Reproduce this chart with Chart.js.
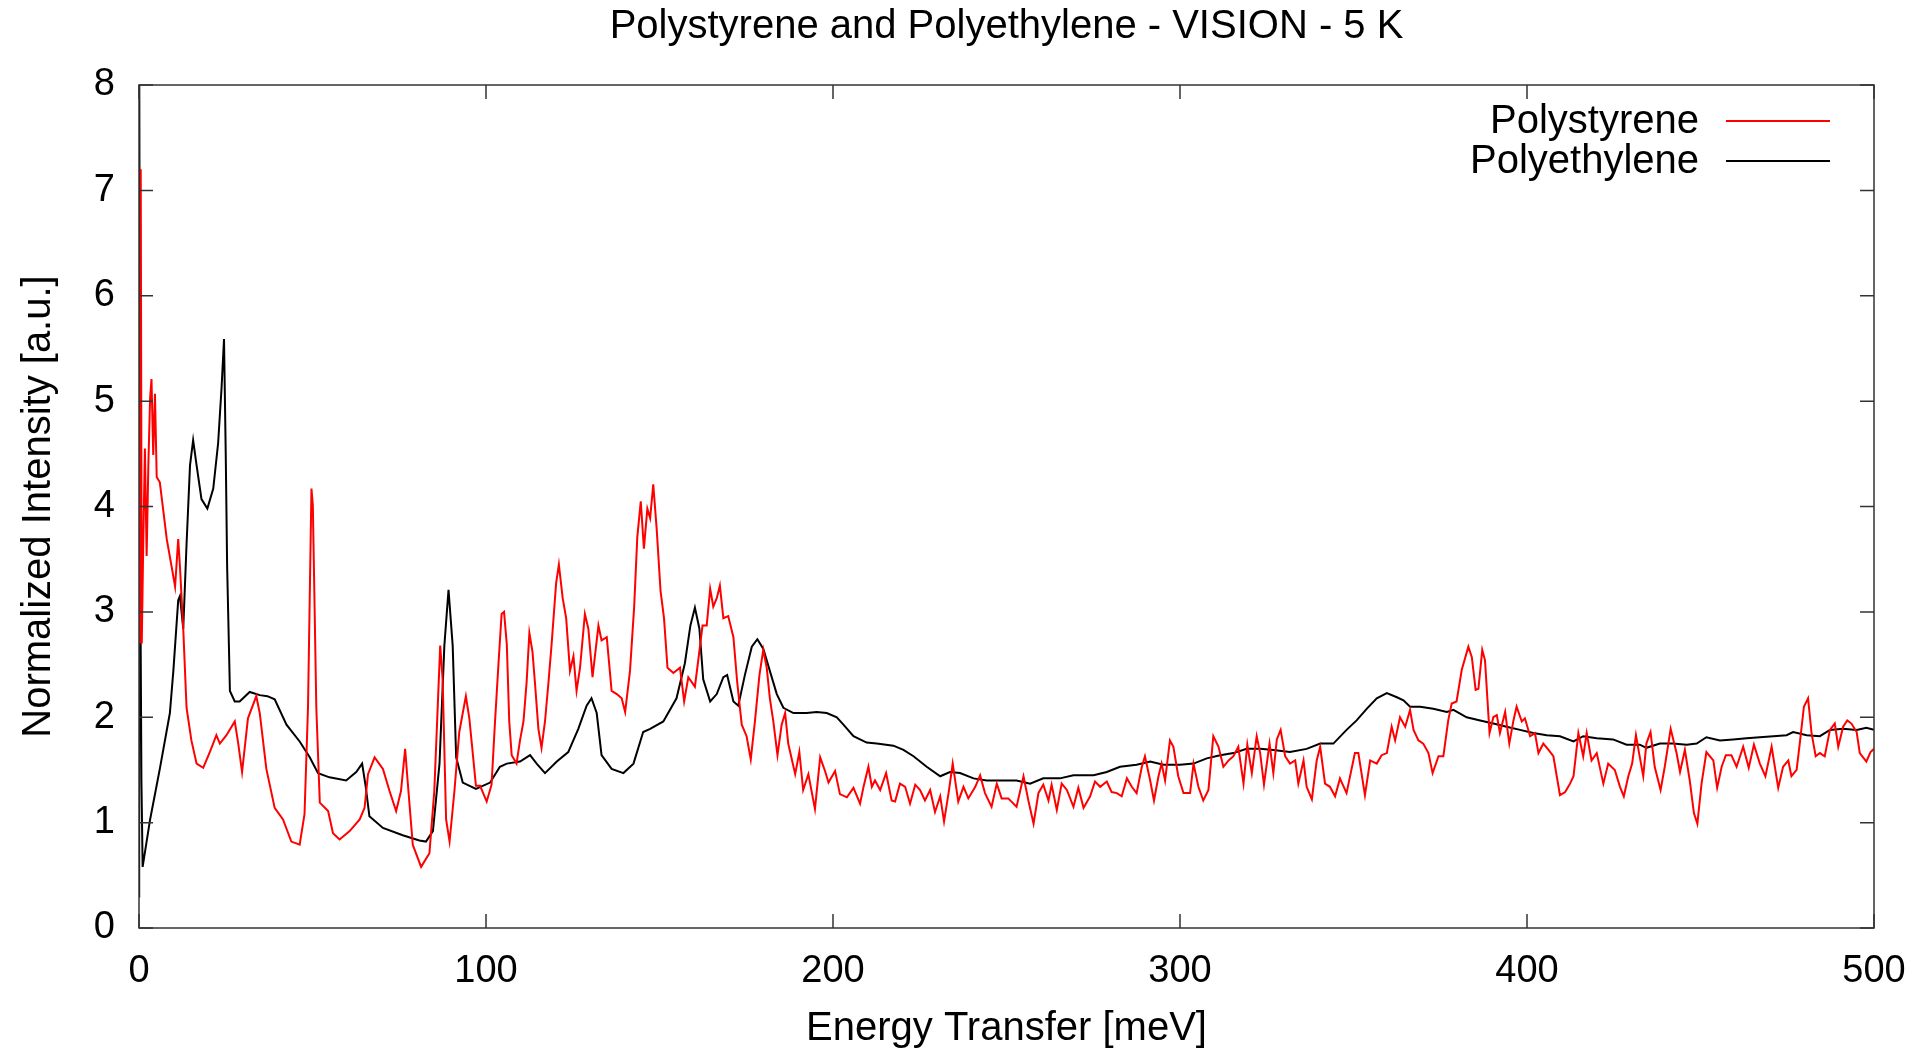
<!DOCTYPE html>
<html>
<head>
<meta charset="utf-8">
<title>Polystyrene and Polyethylene - VISION - 5 K</title>
<script src="https://cdn.jsdelivr.net/npm/chart.js@4.4.1/dist/chart.umd.min.js"></script>
<style>
  html, body { margin: 0; padding: 0; background: #fff; }
</style>
</head>
<body>
<canvas id="spectrum" width="1929" height="1053"></canvas>
<script>
// series + axis labels
const chartTitle = 'Polystyrene and Polyethylene - VISION - 5 K';
const xLabel = 'Energy Transfer [meV]';
const yLabel = 'Normalized Intensity [a.u.]';
const seriesNames = ['Polystyrene', 'Polyethylene'];
const seriesColors = ['#ff0000', '#000000'];
const xTicks = [0, 100, 200, 300, 400, 500];
const yTicks = [0, 1, 2, 3, 4, 5, 6, 7, 8];

// Polystyrene (red)
const psEnergy = [
  0.2, 0.5, 0.8, 1.2, 1.7, 2.2, 2.7, 3.2, 3.6, 4.1, 4.6, 5.1, 6.0, 7.0, 8.0, 9.4, 10.4, 11.3, 11.8, 12.75,
  13.7, 15.1, 16.6, 18.5, 20.4, 22.3, 23.3, 25.2, 27.6, 28.6, 29.7, 31.4, 33.8, 34.8, 36.7, 39.1, 41.5, 43.9, 46.3, 47.7,
  48.7, 49.7, 50.1, 51.1, 52.1, 54.5, 55.9, 57.8, 60.7, 63.6, 65, 66, 67.9, 70.3, 72.2, 74.1, 75.5, 76.7, 77.4, 78.9,
  81.3, 83.7, 85.1, 86.8, 87.5, 88.5, 89.5, 90.9, 92.3, 94.2, 95.2, 97.1, 98.3, 100.2, 101.6, 102.6, 103.6, 104.5, 105.2, 106,
  106.7, 107.4, 108.8, 109.8, 110.8, 111.7, 112.5, 113.4, 114.1, 115.1, 116, 117, 118, 118.9, 120.2, 121, 122.1, 123.1, 124.2, 125.2,
  126.1, 127.1, 128.5, 129.5, 130.7, 132.4, 133.3, 134.8, 136.2, 137.7, 139.1, 140.1, 141.5, 142.7, 143.6, 144.6, 145.5, 146.5, 147.3, 148.2,
  149.2, 150.3, 151.3, 152.3, 154, 155.9, 157.1, 158.3, 160.2, 161.2, 162.4, 163.6, 164.6, 165.5, 166.5, 167.4, 168.4, 169.8, 171.3, 172.4,
  173.7, 175.1, 176.3, 177.5, 178.8, 179.9, 180.9, 181.8, 182.8, 184, 185.2, 186.2, 187.1, 189.1, 190.3, 191.4, 192.9, 194.8, 196.3, 197.7,
  198.7, 200.6, 202, 204, 205.9, 207.8, 208.8, 210.2, 211.2, 212.1, 213.6, 215.3, 216.9, 217.9, 219.3, 220.8, 222.2, 223.7, 225.1, 226.5,
  228, 229.4, 230.9, 232, 233.3, 234.5, 236.1, 237.6, 239, 241, 242.4, 243.8, 245.7, 247.2, 248.6, 250.5, 252.9, 254.9, 256.3, 257.8,
  259.2, 260.6, 262.1, 263, 264.5, 265.9, 267.4, 269.3, 270.7, 272.2, 274.1, 275.5, 277, 278.9, 280.3, 281.8, 283.2, 284.7, 286.1, 287.5,
  289, 289.9, 291.4, 292.5, 293.8, 294.7, 295.7, 297.1, 298.1, 299.5, 301, 302.9, 303.9, 305.3, 306.7, 308.2, 309.6, 311.1, 312.5, 314,
  315.4, 316.8, 318.3, 319.4, 320.7, 322.1, 323.1, 324.2, 325.8, 326.9, 327.9, 329, 330.3, 331.7, 333.2, 334.1, 335.6, 336.5, 338, 339.4,
  340.4, 341.8, 343.2, 344.7, 346.1, 348, 350.4, 351.4, 353.3, 354.8, 356.7, 358.1, 359.6, 361, 362, 363.4, 364.9, 366.3, 367.3, 368.7,
  370.1, 371.6, 372.8, 374.5, 375.9, 377.3, 378.3, 379.7, 381.2, 383.1, 384.1, 385.2, 386, 387.1, 387.9, 389.2, 390.3, 391.3, 392.2, 393.7,
  394.9, 396.1, 397, 398.5, 399.4, 400.9, 402.3, 403.3, 404.7, 406.2, 407.6, 409.5, 411, 412.4, 413.4, 414.8, 416.2, 417.2, 418.6, 420.1,
  422, 423.4, 425.3, 426.8, 427.9, 429.2, 430.3, 431.4, 432.3, 433.5, 434.4, 435.6, 436.8, 438.5, 439.7, 441.4, 443.1, 444.1, 445.5, 446.9,
  448.1, 449.1, 450.3, 451.7, 453.7, 454.8, 456.1, 457.3, 458.9, 460.4, 462.3, 463.9, 465.4, 467.1, 468.7, 470.5, 472.4, 473.8, 475.3, 476.2,
  477.7, 478.6, 479.8, 481, 482, 483.2, 484.4, 485.8, 487.3, 488.7, 489.7, 491.1, 492.3, 493.5, 495, 495.9, 497.8, 499, 500
];
const psIntensity = [
  2.7, 7.2, 2.7, 3.6, 4.55, 3.53, 4.4, 5.03, 5.21, 4.49, 5.07, 4.28, 4.23, 3.96, 3.69, 3.43, 3.24, 3.69, 3.43, 2.84,
  2.09, 1.78, 1.56, 1.52, 1.67, 1.83, 1.75, 1.83, 1.96, 1.75, 1.48, 1.99, 2.2, 2.04, 1.51, 1.14, 1.03, 0.82, 0.79, 1.08,
  2.09, 4.17, 4.01, 2.09, 1.19, 1.11, 0.9, 0.84, 0.92, 1.03, 1.14, 1.46, 1.62, 1.51, 1.30, 1.11, 1.30, 1.70, 1.40, 0.79,
  0.58, 0.71, 1.30, 2.68, 2.36, 1.03, 0.82, 1.30, 1.86, 2.2, 1.99, 1.35, 1.35, 1.20, 1.36, 1.96, 2.51, 2.98, 3.0, 2.69,
  1.96, 1.64, 1.56, 1.78, 1.96, 2.33, 2.80, 2.62, 2.33, 1.89, 1.71, 1.96, 2.33, 2.69, 3.27, 3.45, 3.13, 2.94, 2.44, 2.58,
  2.25, 2.47, 2.98, 2.84, 2.38, 2.87, 2.73, 2.76, 2.25, 2.22, 2.18, 2.05, 2.44, 3.05, 3.71, 4.05, 3.60, 3.98, 3.89, 4.21,
  3.78, 3.20, 2.94, 2.47, 2.42, 2.47, 2.15, 2.38, 2.29, 2.55, 2.87, 2.87, 3.22, 3.05, 3.13, 3.25, 2.94, 2.96, 2.76, 2.33,
  1.93, 1.82, 1.60, 1.96, 2.40, 2.64, 2.47, 2.18, 1.96, 1.64, 1.93, 2.04, 1.75, 1.46, 1.67, 1.31, 1.46, 1.13, 1.62, 1.49,
  1.38, 1.49, 1.27, 1.24, 1.33, 1.18, 1.34, 1.53, 1.34, 1.40, 1.31, 1.47, 1.21, 1.20, 1.37, 1.34, 1.18, 1.36, 1.31, 1.21,
  1.31, 1.10, 1.25, 1.01, 1.28, 1.56, 1.20, 1.34, 1.23, 1.34, 1.45, 1.28, 1.15, 1.37, 1.23, 1.23, 1.15, 1.44, 1.21, 0.99,
  1.28, 1.36, 1.21, 1.36, 1.12, 1.37, 1.31, 1.15, 1.33, 1.14, 1.25, 1.39, 1.34, 1.39, 1.29, 1.28, 1.25, 1.42, 1.34, 1.28,
  1.53, 1.63, 1.40, 1.21, 1.44, 1.56, 1.40, 1.78, 1.72, 1.44, 1.28, 1.28, 1.56, 1.34, 1.21, 1.31, 1.82, 1.72, 1.53, 1.59,
  1.63, 1.72, 1.37, 1.74, 1.47, 1.82, 1.66, 1.36, 1.75, 1.47, 1.79, 1.88, 1.63, 1.56, 1.59, 1.37, 1.59, 1.34, 1.22, 1.59,
  1.72, 1.37, 1.34, 1.25, 1.42, 1.28, 1.66, 1.66, 1.26, 1.59, 1.56, 1.64, 1.66, 1.91, 1.78, 2.00, 1.91, 2.07, 1.88, 1.78,
  1.75, 1.66, 1.47, 1.63, 1.63, 1.97, 2.13, 2.15, 2.45, 2.67, 2.57, 2.26, 2.27, 2.64, 2.54, 1.85, 2.00, 2.02, 1.85, 2.05,
  1.75, 1.97, 2.10, 1.96, 1.99, 1.82, 1.85, 1.66, 1.75, 1.69, 1.63, 1.26, 1.29, 1.37, 1.44, 1.85, 1.63, 1.85, 1.59, 1.66,
  1.37, 1.56, 1.50, 1.34, 1.25, 1.44, 1.56, 1.83, 1.66, 1.44, 1.75, 1.86, 1.53, 1.31, 1.53, 1.89, 1.66, 1.48, 1.69, 1.40,
  1.09, 0.99, 1.37, 1.67, 1.59, 1.33, 1.53, 1.64, 1.64, 1.53, 1.72, 1.52, 1.74, 1.56, 1.44, 1.72, 1.33, 1.53, 1.59, 1.44,
  1.50, 1.75, 2.10, 2.18, 1.85, 1.63, 1.66, 1.63, 1.88, 1.94, 1.72, 1.91, 1.97, 1.94, 1.86, 1.66, 1.58, 1.67, 1.70
];

// Polyethylene (black)
const peEnergy = [
  0.0, 0.05, 0.35, 0.7, 1.05, 3.2, 6.0, 8.9, 9.9, 11.3, 11.8, 12.75, 13.7, 14.7, 15.6, 16.6, 18.0, 19.7, 21.4, 22.8,
  23.8, 24.5, 25.0, 25.4, 26.2, 27.6, 29, 31.9, 34.8, 37, 39.1, 42.5, 46.3, 49.2, 51.6, 54.9, 59.7, 62.6, 64.3, 65.3,
  66.4, 70.3, 76, 80.8, 82.7, 84.7, 86.6, 88, 89.2, 90.4, 91.4, 93.3, 97.1, 101.2, 104, 106, 109.8, 112.7, 114.6, 117,
  120.4, 123.7, 126.6, 129, 130.4, 131.9, 133.3, 136.2, 139.6, 142.5, 145.3, 147.3, 151.1, 154.9, 157.3, 158.9, 160.2, 161.5, 162.6, 164.6,
  166.5, 168.4, 169.5, 171.3, 172.7, 174.6, 176.6, 178.2, 179.9, 181.8, 183.8, 185.7, 188.6, 192.4, 195.3, 198.2, 201.1, 203, 205.9, 209.7,
  212.6, 217.4, 220.3, 223.2, 227, 230.9, 233.7, 236.6, 240.5, 244.3, 248.1, 252.9, 256.8, 260.6, 265.4, 269.3, 275.1, 278.9, 282.7, 287.5,
  291.4, 295.2, 300, 303.9, 307.7, 311.6, 315.4, 319.2, 323.1, 326.9, 331.7, 336.5, 340.4, 344.2, 348, 350.9, 353.8, 356.7, 359.6, 362.5,
  364.4, 366.3, 369.2, 373, 376.9, 378.8, 382.6, 386.5, 390.3, 394.1, 398, 401.8, 405.7, 409.5, 413.4, 416.2, 420.1, 424.8, 428.7, 432.5,
  434.4, 438.3, 442.1, 446, 448.9, 451.7, 455.6, 459.4, 463.3, 467.1, 471, 474.8, 476.7, 480.6, 484.4, 487.3, 491.1, 495, 497.8, 500
];
const peIntensity = [
  0.3, 8.6, 3.5, 1.4, 0.58, 1.03, 1.51, 2.04, 2.44, 3.11, 3.15, 2.84, 3.64, 4.39, 4.63, 4.39, 4.07, 3.98, 4.17, 4.6,
  5.13, 5.59, 4.49, 3.43, 2.25, 2.15, 2.15, 2.24, 2.21, 2.2, 2.17, 1.93, 1.77, 1.62, 1.47, 1.43, 1.40, 1.48, 1.56, 1.35,
  1.06, 0.95, 0.88, 0.83, 0.82, 0.92, 1.56, 2.68, 3.21, 2.68, 1.62, 1.38, 1.32, 1.38, 1.53, 1.56, 1.58, 1.64, 1.56, 1.47,
  1.58, 1.67, 1.89, 2.11, 2.18, 2.04, 1.64, 1.51, 1.47, 1.56, 1.86, 1.89, 1.96, 2.18, 2.51, 2.87, 3.04, 2.84, 2.36, 2.15,
  2.22, 2.38, 2.40, 2.15, 2.11, 2.40, 2.67, 2.74, 2.65, 2.44, 2.22, 2.09, 2.04, 2.04, 2.05, 2.04, 2.00, 1.93, 1.82, 1.76,
  1.75, 1.73, 1.69, 1.63, 1.53, 1.44, 1.48, 1.47, 1.42, 1.40, 1.40, 1.40, 1.37, 1.42, 1.42, 1.45, 1.45, 1.48, 1.53, 1.55,
  1.58, 1.55, 1.55, 1.56, 1.61, 1.64, 1.66, 1.70, 1.70, 1.69, 1.67, 1.70, 1.75, 1.75, 1.88, 1.97, 2.08, 2.18, 2.23, 2.19,
  2.16, 2.10, 2.10, 2.08, 2.05, 2.07, 2.00, 1.97, 1.94, 1.91, 1.88, 1.85, 1.83, 1.82, 1.77, 1.82, 1.80, 1.79, 1.74, 1.74,
  1.71, 1.75, 1.75, 1.74, 1.75, 1.81, 1.78, 1.79, 1.80, 1.81, 1.82, 1.83, 1.86, 1.83, 1.82, 1.88, 1.89, 1.88, 1.90, 1.88
];

const FONT = "'Liberation Sans', Arial, Helvetica, sans-serif";
Chart.defaults.font.family = FONT;
Chart.defaults.color = '#000';

const toPoints = (xs, ys) => xs.map((x, i) => ({ x: x, y: ys[i] }));

// gnuplot-style frame with inward ticks + legend (text then line sample)
const framePlugin = {
  id: 'frame',
  afterDatasetsDraw(chart) {
    const { ctx, chartArea: a, scales } = chart;
    const tick = 14;
    ctx.save();
    ctx.strokeStyle = '#333';
    ctx.lineWidth = 1.5;
    ctx.strokeRect(a.left, a.top, a.right - a.left, a.bottom - a.top);
    ctx.beginPath();
    xTicks.forEach(v => {
      const px = scales.x.getPixelForValue(v);
      ctx.moveTo(px, a.bottom); ctx.lineTo(px, a.bottom - tick);
      ctx.moveTo(px, a.top); ctx.lineTo(px, a.top + tick);
    });
    yTicks.forEach(v => {
      const py = scales.y.getPixelForValue(v);
      ctx.moveTo(a.left, py); ctx.lineTo(a.left + tick, py);
      ctx.moveTo(a.right, py); ctx.lineTo(a.right - tick, py);
    });
    ctx.stroke();

    // legend
    ctx.font = '40px ' + FONT;
    ctx.textAlign = 'right';
    ctx.textBaseline = 'middle';
    chart.data.datasets.forEach((ds, i) => {
      const y = a.top + 36 + i * 40;
      ctx.fillStyle = '#000';
      ctx.fillText(ds.label, a.right - 175, y + 1);
      ctx.strokeStyle = ds.borderColor;
      ctx.lineWidth = 2;
      ctx.beginPath();
      ctx.moveTo(a.right - 148, y);
      ctx.lineTo(a.right - 44, y);
      ctx.stroke();
    });
    ctx.restore();
  }
};

new Chart(document.getElementById('spectrum'), {
  type: 'line',
  data: {
    datasets: [
      { label: seriesNames[0], data: toPoints(psEnergy, psIntensity), borderColor: seriesColors[0] },
      { label: seriesNames[1], data: toPoints(peEnergy, peIntensity), borderColor: seriesColors[1] }
    ]
  },
  options: {
    responsive: false,
    animation: false,
    devicePixelRatio: 1,
    layout: { padding: { left: 0, right: 55, top: 0, bottom: 0 } },
    elements: {
      point: { radius: 0 },
      line: { borderWidth: 2, tension: 0, fill: false }
    },
    plugins: {
      legend: { display: false },
      tooltip: { enabled: false },
      title: {
        display: true,
        text: chartTitle,
        fullSize: false,
        font: { size: 40, weight: 'normal' },
        color: '#000',
        padding: { top: 3, bottom: 34 }
      }
    },
    scales: {
      x: {
        type: 'linear',
        min: 0,
        max: 500,
        afterBuildTicks: s => { s.ticks = xTicks.map(v => ({ value: v })); },
        afterFit: s => { s.height = 125; },
        grid: { display: false, drawTicks: false },
        border: { display: false },
        ticks: { font: { size: 38 }, color: '#000', padding: 21, maxRotation: 0 },
        title: { display: true, text: xLabel, font: { size: 40 }, color: '#000', padding: { top: 0, bottom: 0 } }
      },
      y: {
        type: 'linear',
        min: 0,
        max: 8,
        afterBuildTicks: s => { s.ticks = yTicks.map(v => ({ value: v })); },
        afterFit: s => { s.width = 139; },
        grid: { display: false, drawTicks: false },
        border: { display: false },
        ticks: { font: { size: 38 }, color: '#000', padding: 24 },
        title: { display: true, text: yLabel, font: { size: 40 }, color: '#000', padding: { top: 15, bottom: 0 } }
      }
    }
  },
  plugins: [framePlugin]
});
</script>
</body>
</html>
